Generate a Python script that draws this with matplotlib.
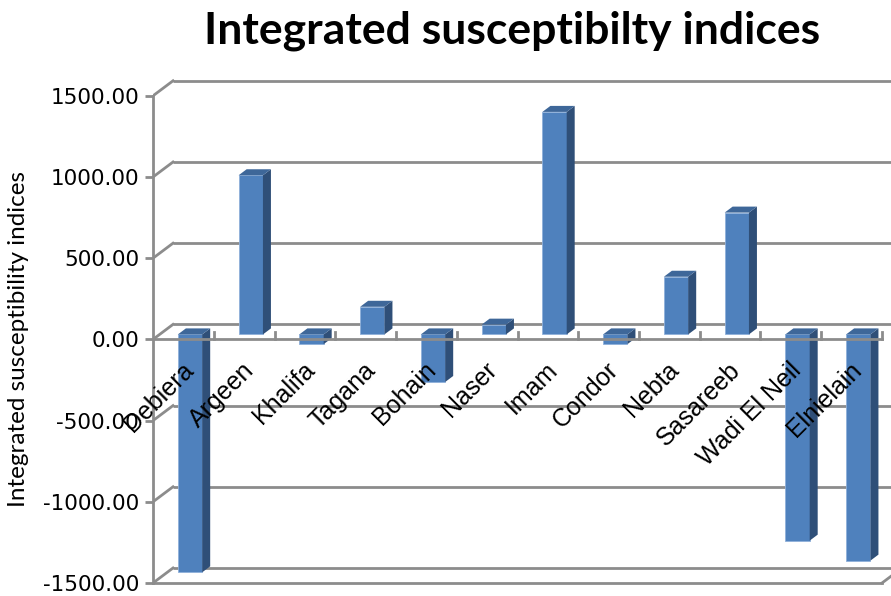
import numpy as np
import matplotlib
matplotlib.use("Agg")
from matplotlib import pyplot as plt
from matplotlib.ticker import FormatStrFormatter

# Datos del gráfico
sitios = ['Debiera', 'Argeen', 'Khalifa', 'Tagana', 'Bohain', 'Naser', 'Imam',
          'Condor', 'Nebta', 'Sasareeb', 'Wadi El Neil', 'Elnielain']
indices = [-1465, 980, -60, 170, -293, 60, 1370, -60, 355, 750, -1270, -1393]
y_ticks = [-1500, -1000, -500, 0, 500, 1000, 1500]

titulo = 'Integrated susceptibilty indices'
etiqueta_y = 'Integrated susceptibility indices'

# Colores estilo Excel 3D
c_frente = '#4F81BD'
c_lado = '#2F4F78'
c_tapa = '#3E6799'
c_grilla = '#8C8C8C'

# Geometría (en píxeles de la figura)
W, H = 891, 596
px_x0 = 153          # eje vertical frontal
px_cat = 60.75       # ancho de cada categoría
px_y0 = 583          # posición de -1500
px_por_u = 0.1624    # píxeles por unidad del eje y
px_top = 78

# Profundidad 3D expresada en unidades de datos
prof_x = 20 / px_cat
prof_y = 15 / px_por_u

fig = plt.figure(figsize=(W / 100, H / 100), dpi=100)
ax = fig.add_axes([px_x0 / W, (H - px_y0) / H, (W - px_x0) / W, (px_y0 - px_top) / H])
ax.set_xlim(0, (W - px_x0) / px_cat)
ax.set_ylim(-1500, -1500 + (px_y0 - px_top) / px_por_u)

n = len(sitios)
lw = 2

# Pared del fondo: líneas de grilla y diagonales de la pared izquierda
for v in y_ticks:
    ax.plot([prof_x, n + prof_x + 1], [v + prof_y, v + prof_y], color=c_grilla, lw=lw,
            zorder=1, clip_on=False, solid_capstyle='butt')
    ax.plot([0, prof_x], [v, v + prof_y], color=c_grilla, lw=lw, zorder=1)

# Piso inferior (frente y diagonal derecha)
ax.plot([0, n], [-1500, -1500], color=c_grilla, lw=lw, zorder=1, clip_on=False)
ax.plot([n, n + prof_x], [-1500, -1500 + prof_y], color=c_grilla, lw=lw, zorder=1,
        clip_on=False)

# Barras 3D: cara frontal, lateral y tapa
ancho = 0.40
f_x, f_y = prof_x / 3, prof_y / 3       # la cara frontal queda a 1/3 de la profundidad
d_x, d_y = prof_x * 0.40, prof_y * 0.40  # profundidad de la barra
centros = np.arange(n) + 0.5 + f_x
ax.bar(centros, indices, width=ancho, bottom=f_y, color=c_frente,
       edgecolor='#8FB0DA', linewidth=0.6, zorder=3)
for xc, v in zip(centros, indices):
    xl, xr = xc - ancho / 2, xc + ancho / 2
    y_lo, y_hi = f_y + min(v, 0), f_y + max(v, 0)
    ax.fill([xr, xr + d_x, xr + d_x, xr], [y_lo, y_lo + d_y, y_hi + d_y, y_hi],
            color=c_lado, lw=0, zorder=3)
    ax.fill([xl, xr, xr + d_x, xl + d_x], [y_hi, y_hi, y_hi + d_y, y_hi + d_y],
            color=c_tapa, lw=0, zorder=3)

# Eje de categorías en cero, por delante de las barras
ax.plot([0, n], [0, 0], color=c_grilla, lw=lw, zorder=4)
for i in range(1, n + 1):
    ax.plot([i, i], [0, 7 / px_por_u], color=c_grilla, lw=lw, zorder=4)

# Etiquetas de categoría a 45 grados
for i, s in enumerate(sitios):
    ax.text(i + 0.6, -165, s, rotation=45, rotation_mode='anchor', ha='right', va='center',
            fontsize=18, family='Liberation Sans', zorder=5)

# Eje y
ax.set_yticks(y_ticks)
ax.yaxis.set_major_formatter(FormatStrFormatter('%.2f'))
ax.tick_params(axis='y', direction='out', length=6, width=lw, color=c_grilla,
               labelsize=15.5, pad=4)
ax.set_xticks([])
for lado in ['top', 'right', 'bottom']:
    ax.spines[lado].set_visible(False)
ax.spines['left'].set_color(c_grilla)
ax.spines['left'].set_linewidth(lw)
ax.spines['left'].set_bounds(-1500, 1500)

fig.text(19 / W, 1 - 339 / H, etiqueta_y, rotation=90, ha='center', va='center',
         fontsize=17.5, family='Lato')
fig.text(512 / W, 1 - 31 / H, titulo, ha='center', va='center',
         fontsize=32, fontweight='bold', family='Lato')

fig.savefig('out.png', dpi=100)
